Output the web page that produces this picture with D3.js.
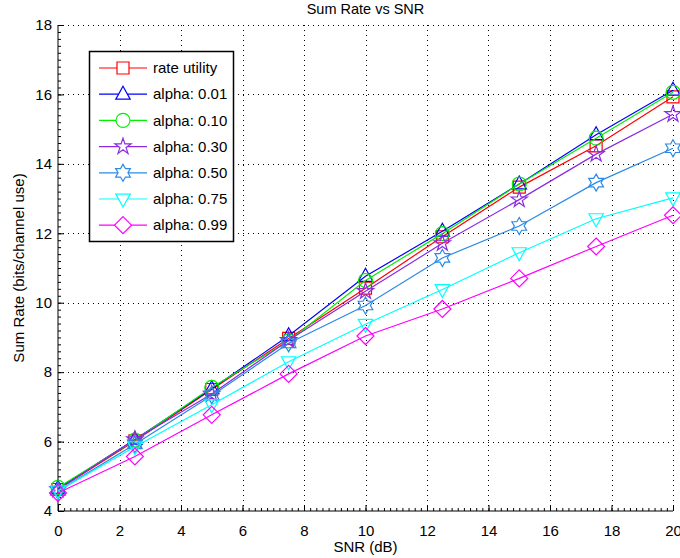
<!DOCTYPE html>
<html>
<head>
<meta charset="utf-8">
<script src="https://cdn.jsdelivr.net/npm/d3@7"></script>
<style>
  html, body { margin: 0; padding: 0; background: #fff; }
  svg { display: block; font-family: "Liberation Sans", Arial, sans-serif; }
</style>
</head>
<body>
<svg id="chart" width="680" height="558"></svg>
<script>
// SNR points (dB)
const snr = [0, 2.5, 5, 7.5, 10, 12.5, 15, 17.5, 20];

// Sum rate per scheme (bits/channel use)
const rateUtility = [4.62, 6.02, 7.50, 8.97, 10.42, 11.90, 13.33, 14.52, 15.93];
const alpha001    = [4.65, 6.06, 7.52, 9.05, 10.76, 12.06, 13.42, 14.84, 16.12];
const alpha010    = [4.68, 6.04, 7.56, 8.90, 10.64, 11.99, 13.42, 14.74, 16.06];
const alpha030    = [4.62, 6.06, 7.37, 8.92, 10.33, 11.71, 12.97, 14.28, 15.43];
const alpha050    = [4.58, 5.92, 7.33, 8.83, 9.92, 11.29, 12.21, 13.46, 14.45];
const alpha075    = [4.58, 5.85, 7.06, 8.30, 9.38, 10.38, 11.44, 12.42, 13.02];
const alpha099    = [4.52, 5.57, 6.77, 7.95, 9.04, 9.82, 10.70, 11.62, 12.52];

const seriesNames = ["rate utility", "alpha: 0.01", "alpha: 0.10", "alpha: 0.30",
                     "alpha: 0.50", "alpha: 0.75", "alpha: 0.99"];
const seriesValues = [rateUtility, alpha001, alpha010, alpha030, alpha050, alpha075, alpha099];
const seriesColors = ["#ff0000", "#0000ff", "#00ee00", "#8a2be2", "#2b8ae6", "#00ffff", "#ff00ff"];
const seriesMarkers = ["square", "triangleUp", "circle", "pentagram", "hexagram", "triangleDown", "diamond"];

const xTicks = [0, 2, 4, 6, 8, 10, 12, 14, 16, 18, 20];
const yTicks = [4, 6, 8, 10, 12, 14, 16, 18];

const margin = { left: 58, right: 7, top: 25, bottom: 47 };
const W = 680, H = 558;
const svg = d3.select("#chart");

const x = d3.scaleLinear().domain([0, 20]).range([margin.left, W - margin.right]);
const y = d3.scaleLinear().domain([4, 18]).range([H - margin.bottom, margin.top]);

// marker path generators, centred on the origin
function markerPath(kind) {
  const p = d3.path();
  if (kind === "square") {
    const s = 6; p.rect(-s, -s, 2 * s, 2 * s);
  } else if (kind === "triangleUp") {
    const r = 8; p.moveTo(0, -r); p.lineTo(r * 0.9, r * 0.62); p.lineTo(-r * 0.9, r * 0.62); p.closePath();
  } else if (kind === "triangleDown") {
    const r = 8; p.moveTo(0, r); p.lineTo(r * 0.9, -r * 0.62); p.lineTo(-r * 0.9, -r * 0.62); p.closePath();
  } else if (kind === "circle") {
    p.arc(0, 0, 7, 0, 2 * Math.PI); p.closePath();
  } else if (kind === "diamond") {
    const r = 8.5; p.moveTo(0, -r); p.lineTo(r, 0); p.lineTo(0, r); p.lineTo(-r, 0); p.closePath();
  } else if (kind === "pentagram") {
    const R = 8.5, r = R * 0.382;
    for (let i = 0; i < 10; i++) {
      const a = -Math.PI / 2 + i * Math.PI / 5, rr = i % 2 ? r : R;
      i ? p.lineTo(rr * Math.cos(a), rr * Math.sin(a)) : p.moveTo(rr * Math.cos(a), rr * Math.sin(a));
    }
    p.closePath();
  } else if (kind === "hexagram") {
    const R = 8.5, r = R * 0.577;
    for (let i = 0; i < 12; i++) {
      const a = -Math.PI / 2 + i * Math.PI / 6, rr = i % 2 ? r : R;
      i ? p.lineTo(rr * Math.cos(a), rr * Math.sin(a)) : p.moveTo(rr * Math.cos(a), rr * Math.sin(a));
    }
    p.closePath();
  }
  return p.toString();
}

// dotted grid at major ticks
const grid = svg.append("g").attr("stroke", "#000").attr("stroke-width", 1)
  .attr("stroke-dasharray", "1,4").attr("shape-rendering", "crispEdges");
grid.selectAll("line.gx").data(xTicks.slice(1)).join("line")
  .attr("x1", d => Math.round(x(d)) + 0.5).attr("x2", d => Math.round(x(d)) + 0.5)
  .attr("y1", y(4)).attr("y2", y(18));
grid.selectAll("line.gy").data(yTicks.slice(1)).join("line")
  .attr("x1", x(0)).attr("x2", x(20))
  .attr("y1", d => Math.round(y(d)) + 0.5).attr("y2", d => Math.round(y(d)) + 0.5);

// axes: ticks point inward, minor ticks every 0.2
const xMinor = d3.range(0, 20.001, 0.2);
const yMinor = d3.range(4, 18.001, 0.2);
const xAxisG = svg.append("g").attr("transform", `translate(0,${y(4)})`);
xAxisG.call(d3.axisBottom(x).tickValues(xMinor).tickSize(-3).tickFormat(""));
xAxisG.call(g => g.select(".domain").remove());
const xMajor = svg.append("g").attr("transform", `translate(0,${y(4)})`)
  .call(d3.axisBottom(x).tickValues(xTicks).tickSize(-6).tickPadding(14).tickFormat(d3.format("d")));
xMajor.select(".domain").attr("d", `M${x(0)},0H${x(20)}`);
xMajor.selectAll("text").attr("font-size", 15).attr("font-family", "Liberation Sans, Arial, sans-serif").attr("fill", "#000");

const yAxisG = svg.append("g").attr("transform", `translate(${x(0)},0)`);
yAxisG.call(d3.axisLeft(y).tickValues(yMinor).tickSize(-3).tickFormat(""));
yAxisG.call(g => g.select(".domain").remove());
const yMajor = svg.append("g").attr("transform", `translate(${x(0)},0)`)
  .call(d3.axisLeft(y).tickValues(yTicks).tickSize(-6).tickPadding(6).tickFormat(d3.format("d")));
yMajor.select(".domain").attr("d", `M0,${y(4)}V${y(18)}`);
yMajor.selectAll("text").attr("font-size", 15).attr("font-family", "Liberation Sans, Arial, sans-serif").attr("fill", "#000");

svg.selectAll(".tick line").attr("stroke", "#000");

// series lines and markers
const line = d3.line().x((d, i) => x(snr[i])).y(d => y(d));
seriesValues.forEach((vals, k) => {
  const g = svg.append("g");
  g.append("path").datum(vals).attr("d", line)
    .attr("fill", "none").attr("stroke", seriesColors[k]).attr("stroke-width", 1.2);
  g.selectAll("path.m").data(vals).join("path").attr("class", "m")
    .attr("transform", (d, i) => `translate(${x(snr[i])},${y(d)})`)
    .attr("d", markerPath(seriesMarkers[k]))
    .attr("fill", "none").attr("stroke", seriesColors[k]).attr("stroke-width", 1.2);
});

// legend
const lg = svg.append("g");
lg.append("rect").attr("x", 89.5).attr("y", 51.5).attr("width", 144).attr("height", 190)
  .attr("fill", "#fff").attr("stroke", "#000").attr("stroke-width", 1.5);
seriesNames.forEach((name, k) => {
  const cy = 68 + k * 26.2;
  lg.append("line").attr("x1", 99).attr("x2", 147).attr("y1", cy).attr("y2", cy)
    .attr("stroke", seriesColors[k]).attr("stroke-width", 1.2);
  lg.append("path").attr("transform", `translate(123,${cy})`).attr("d", markerPath(seriesMarkers[k]))
    .attr("fill", "#fff").attr("stroke", seriesColors[k]).attr("stroke-width", 1.2);
  lg.append("text").attr("x", 153).attr("y", cy).attr("dy", "0.35em")
    .attr("font-size", 15).attr("fill", "#000").text(name);
});

// titles
svg.append("text").attr("x", (x(0) + x(20)) / 2).attr("y", 14).attr("text-anchor", "middle")
  .attr("font-size", 14.5).attr("fill", "#000").text("Sum Rate vs SNR");
svg.append("text").attr("x", (x(0) + x(20)) / 2).attr("y", 552).attr("text-anchor", "middle")
  .attr("font-size", 15).attr("fill", "#000").text("SNR (dB)");
svg.append("text").attr("transform", `translate(24,${(y(4) + y(18)) / 2}) rotate(-90)`)
  .attr("text-anchor", "middle").attr("font-size", 15).attr("fill", "#000")
  .text("Sum Rate (bits/channel use)");
</script>
</body>
</html>
